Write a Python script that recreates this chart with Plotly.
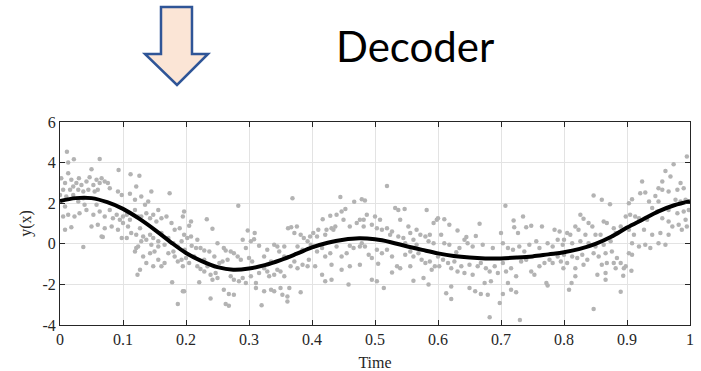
import plotly.graph_objects as go

# ---------------- data ----------------
curve_time = [0.0, 0.025, 0.05, 0.075, 0.1, 0.125, 0.15, 0.175, 0.2, 0.225, 0.25, 0.275,
              0.3, 0.325, 0.35, 0.375, 0.4, 0.425, 0.45, 0.475, 0.5, 0.525, 0.55, 0.575,
              0.6, 0.625, 0.65, 0.675, 0.7, 0.725, 0.75, 0.775, 0.8, 0.825, 0.85, 0.875,
              0.9, 0.925, 0.95, 0.975, 1.0]
curve_y = [2.1, 2.25, 2.25, 2.05, 1.72, 1.25, 0.7, 0.1, -0.45, -0.85, -1.15, -1.28,
           -1.22, -1.05, -0.8, -0.5, -0.18, 0.05, 0.2, 0.27, 0.22, 0.08, -0.12, -0.3,
           -0.47, -0.6, -0.68, -0.72, -0.72, -0.68, -0.62, -0.52, -0.42, -0.25, 0.0, 0.35,
           0.8, 1.2, 1.6, 1.9, 2.1]

noisy_time = [
    0.011, 0.013, 0.022, 0.063, 0.093, 0.050, 0.112, 0.126, 0.013, 0.002, 0.008, 0.018,
    0.026, 0.030, 0.034, 0.042, 0.047, 0.053, 0.058, 0.063, 0.066, 0.071, 0.076, 0.079,
    0.060, 0.055, 0.045, 0.037, 0.029, 0.021, 0.016, 0.005, 0.000, 0.010, 0.021, 0.037,
    0.029, 0.092, 0.098, 0.111, 0.121, 0.145, 0.174, 0.140, 0.135, 0.119, 0.129, 0.008,
    0.005, 0.013, 0.023, 0.031, 0.039, 0.042, 0.053, 0.058, 0.063, 0.071, 0.079, 0.084,
    0.090, 0.095, 0.100, 0.106, 0.111, 0.119, 0.124, 0.129, 0.137, 0.143, 0.148, 0.153,
    0.156, 0.161, 0.169, 0.177, 0.182, 0.190, 0.195, 0.008, 0.018, 0.050, 0.060, 0.071,
    0.082, 0.092, 0.098, 0.106, 0.113, 0.121, 0.127, 0.132, 0.137, 0.143, 0.148, 0.156,
    0.161, 0.166, 0.172, 0.180, 0.187, 0.193, 0.198, 0.037, 0.066, 0.068, 0.119, 0.121,
    0.124, 0.132, 0.137, 0.143, 0.150, 0.156, 0.148, 0.161, 0.166, 0.172, 0.180, 0.182,
    0.187, 0.193, 0.195, 0.123, 0.127, 0.178, 0.195, 0.187, 0.156, 0.145, 0.129, 0.108,
    0.100,
    0.197, 0.205, 0.208, 0.233, 0.242, 0.283, 0.369, 0.197, 0.202, 0.208, 0.218, 0.209,
    0.216, 0.223, 0.229, 0.237, 0.250, 0.260, 0.263, 0.271, 0.276, 0.282, 0.290, 0.295,
    0.298, 0.303, 0.309, 0.308, 0.316, 0.324, 0.329, 0.340, 0.345, 0.348, 0.356, 0.362,
    0.367, 0.376, 0.372, 0.382, 0.387, 0.393, 0.398, 0.385, 0.377, 0.200, 0.205, 0.213,
    0.218, 0.223, 0.229, 0.234, 0.239, 0.247, 0.250, 0.242, 0.258, 0.266, 0.271, 0.276,
    0.284, 0.290, 0.295, 0.303, 0.311, 0.311, 0.316, 0.324, 0.329, 0.332, 0.340, 0.345,
    0.350, 0.356, 0.366, 0.372, 0.377, 0.385, 0.393, 0.395, 0.260, 0.268, 0.263, 0.268,
    0.276, 0.239, 0.324, 0.335, 0.340, 0.350, 0.353, 0.361, 0.364, 0.361, 0.382, 0.320,
    0.221, 0.197, 0.229, 0.245, 0.253, 0.287, 0.300, 0.305, 0.335, 0.356,
    0.519, 0.445, 0.467, 0.479, 0.484, 0.453, 0.447, 0.439, 0.429, 0.417, 0.532, 0.537,
    0.547, 0.582, 0.540, 0.508, 0.500, 0.487, 0.482, 0.476, 0.471, 0.460, 0.450, 0.437,
    0.431, 0.423, 0.410, 0.402, 0.397, 0.408, 0.421, 0.434, 0.482, 0.495, 0.503, 0.511,
    0.519, 0.527, 0.524, 0.537, 0.545, 0.553, 0.556, 0.566, 0.572, 0.580, 0.587, 0.593,
    0.598, 0.585, 0.593, 0.561, 0.548, 0.566, 0.402, 0.408, 0.416, 0.421, 0.429, 0.439,
    0.447, 0.455, 0.466, 0.476, 0.484, 0.490, 0.495, 0.503, 0.511, 0.519, 0.527, 0.535,
    0.540, 0.548, 0.556, 0.561, 0.569, 0.574, 0.580, 0.587, 0.595, 0.405, 0.416, 0.431,
    0.447, 0.460, 0.476, 0.505, 0.527, 0.556, 0.590, 0.421, 0.431, 0.458, 0.495, 0.503,
    0.514, 0.561, 0.577, 0.585, 0.479, 0.460,
    0.707, 0.735, 0.720, 0.600, 0.610, 0.618, 0.631, 0.666, 0.721, 0.740, 0.748, 0.765,
    0.700, 0.727, 0.605, 0.645, 0.660, 0.785, 0.793, 0.610, 0.618, 0.634, 0.642, 0.647,
    0.655, 0.671, 0.687, 0.703, 0.711, 0.719, 0.729, 0.737, 0.745, 0.756, 0.761, 0.774,
    0.782, 0.790, 0.798, 0.629, 0.600, 0.608, 0.602, 0.616, 0.621, 0.626, 0.631, 0.637,
    0.642, 0.650, 0.655, 0.663, 0.668, 0.676, 0.682, 0.690, 0.695, 0.703, 0.708, 0.716,
    0.724, 0.732, 0.740, 0.748, 0.753, 0.761, 0.769, 0.777, 0.782, 0.790, 0.795, 0.613,
    0.621, 0.621, 0.650, 0.659, 0.668, 0.679, 0.684, 0.698, 0.703, 0.711, 0.716, 0.724,
    0.772, 0.774, 0.682, 0.730, 0.674,
    0.995, 0.974, 0.961, 0.969, 0.924, 0.956, 0.985, 0.950, 0.956, 0.966, 0.980, 0.990,
    0.921, 0.929, 0.945, 0.847, 0.860, 0.873, 0.908, 0.903, 0.935, 0.950, 0.977, 0.985,
    0.993, 0.940, 0.948, 0.966, 0.980, 0.990, 0.998, 0.826, 0.831, 0.898, 0.905, 0.913,
    0.919, 0.932, 0.956, 0.966, 0.972, 0.982, 0.993, 0.995, 0.987, 0.863, 0.868, 0.839,
    0.845, 0.818, 0.805, 0.810, 0.823, 0.834, 0.850, 0.858, 0.879, 0.890, 0.882, 0.903,
    0.911, 0.927, 0.940, 0.953, 0.966, 0.950, 0.961, 0.929, 0.919, 0.937, 0.908, 0.874,
    0.800, 0.813, 0.826, 0.839, 0.850, 0.863, 0.800, 0.813, 0.821, 0.829, 0.837, 0.847,
    0.855, 0.866, 0.876, 0.884, 0.903, 0.908, 0.805, 0.818, 0.831, 0.860, 0.868, 0.879,
    0.890, 0.898, 0.895, 0.818, 0.853, 0.866, 0.866, 0.882, 0.894, 0.907, 0.808, 0.812,
    0.890, 0.847, 0.799,
]
noisy_y = [
    4.54, 4.00, 4.17, 4.18, 3.64, 3.67, 3.43, 3.35, 3.48, 3.23, 2.99, 3.15,
    2.99, 3.23, 2.90, 3.07, 3.28, 2.90, 3.15, 2.99, 3.23, 3.07, 2.99, 2.74,
    2.66, 2.58, 2.66, 2.58, 2.66, 2.82, 2.66, 2.66, 2.41, 2.33, 2.41, 2.25,
    2.08, 2.58, 2.41, 2.46, 2.82, 2.58, 2.49, 2.08, 1.92, 2.17, 2.33, 1.84,
    1.35, 1.43, 1.35, 1.51, 1.92, 1.67, 1.43, 1.92, 1.59, 1.35, 1.67, 1.26,
    1.43, 1.18, 1.35, 1.43, 1.18, 1.67, 1.35, 1.35, 1.51, 1.26, 1.43, 1.10,
    1.67, 1.26, 1.35, 1.02, 0.69, 0.77, 1.35, 0.69, 0.82, 0.85, 0.94, 0.77,
    0.85, 0.69, 0.28, 0.28, 0.53, 0.44, 0.77, 0.36, 0.20, 0.44, 0.28, 0.12,
    0.53, -0.05, 0.28, 0.03, -0.13, 0.12, -0.29, -0.16, 0.36, 0.33, -0.38, -0.21,
    -0.13, -0.62, -0.95, -0.46, -0.38, -0.79, -1.11, -1.11, -0.95, -0.46, -0.38, -0.62,
    -0.87, -0.79, -1.11, -1.52, -1.28, -1.90, -2.34, -2.97, -0.13, -0.05, 0.12, 0.85,
    1.02,
    1.59, 0.89, 1.10, 1.21, 0.74, 1.87, 2.25, 0.44, 0.28, 0.36, 0.20, -0.10,
    -0.21, -0.21, -0.33, -0.38, 0.03, -0.21, -0.33, -0.38, -0.46, -0.62, 0.20, -0.21,
    0.66, 0.12, 0.53, 0.23, -0.10, -0.62, -0.29, -0.05, -0.13, -0.38, -0.13, 0.77,
    0.82, 0.85, 0.53, 0.44, 0.28, 0.12, -0.05, -0.29, -0.13, -0.70, -0.95, -0.62,
    -1.11, -1.24, -1.36, -1.11, -1.52, -1.44, -1.69, -1.77, -0.87, -0.79, -1.60, -1.77,
    -1.85, -1.69, -1.93, -1.60, -1.93, -2.18, -1.44, -1.20, -1.36, -1.60, -1.52, -1.28,
    -1.36, -1.60, -1.11, -0.87, -1.20, -1.03, -1.11, -0.79, -2.26, -2.47, -2.97, -3.05,
    -2.51, -2.70, -2.34, -2.26, -2.34, -2.18, -2.51, -2.59, -2.18, -2.84, -2.39, -3.03,
    -1.90, -2.34, -0.79, -0.62, -0.95, -0.79, -0.70, -0.87, -0.87, -0.62,
    2.85, 2.30, 2.07, 2.20, 2.13, 1.71, 1.59, 1.43, 1.38, 1.21, 1.76, 1.67,
    1.71, 1.67, 1.18, 1.18, 1.35, 1.43, 1.18, 1.18, 1.02, 0.85, 1.18, 0.85,
    0.77, 0.69, 0.69, 0.53, 0.36, 0.36, 0.44, 0.69, 0.85, 0.94, 0.77, 0.69,
    0.77, 0.61, 0.44, 0.36, 0.28, 0.85, 0.53, 0.69, 0.44, 0.36, 0.44, 1.02,
    1.18, 0.12, 0.03, 0.20, 0.03, -0.05, -0.13, -0.38, -0.21, -0.62, -0.46, -0.13,
    -0.62, -0.46, -0.21, -0.13, -0.13, -0.54, -0.70, -0.29, -0.46, -0.29, -0.62, -1.11,
    -1.20, -0.54, -0.38, -0.62, -0.46, -0.79, -0.95, -0.87, -1.11, -1.11, -1.52, -1.03,
    -1.28, -1.11, -1.03, -0.98, -1.41, -1.11, -1.28, -1.85, -1.77, -2.01, -1.77, -1.85,
    -2.18, -1.82, -1.69, -2.01, 0.03, -0.10,
    1.87, 1.35, 1.15, 1.26, 1.21, 0.94, 0.66, 0.99, 0.82, 0.82, 0.89, 0.85,
    0.53, 0.53, 0.44, 0.33, 0.39, 0.69, 0.61, 0.03, -0.05, -0.21, 0.20, 0.03,
    -0.13, -0.05, -0.21, 0.03, -0.21, -0.29, -0.13, -0.38, -0.05, 0.12, -0.21, 0.03,
    -0.13, 0.20, -0.05, -0.42, -0.62, -0.79, -1.11, -0.95, -1.20, -0.87, -1.36, -1.11,
    -1.44, -1.03, -1.52, -1.11, -0.95, -1.20, -1.36, -1.11, -1.44, -0.95, -1.36, -1.20,
    -1.60, -0.87, -0.79, -1.36, -1.52, -1.11, -0.95, -0.79, -0.95, -0.62, -0.87, -2.43,
    -2.72, -2.10, -2.18, -2.34, -2.47, -2.51, -1.85, -2.92, -2.47, -1.93, -2.26, -2.39,
    -1.93, -2.05, -3.62, -3.75, -1.93,
    4.30, 3.92, 3.59, 3.31, 3.07, 3.07, 2.99, 2.74, 2.66, 2.58, 2.66, 2.74,
    2.49, 2.53, 2.36, 2.38, 2.17, 1.95, 2.20, 2.00, 2.08, 2.08, 2.17, 2.08,
    2.17, 1.76, 1.59, 1.67, 1.51, 1.59, 1.67, 1.43, 1.23, 1.35, 1.43, 1.35,
    1.26, 1.18, 1.26, 1.10, 0.85, 0.94, 1.18, 0.85, 0.69, 1.10, 1.02, 1.02,
    0.85, 0.85, 0.53, 0.44, 0.69, 0.44, 0.44, 0.44, 0.77, 0.85, 0.53, 0.69,
    0.44, 0.69, 0.44, 0.53, 0.44, 0.03, -0.05, -0.05, -0.13, -0.21, 0.03, 0.12,
    0.20, 0.03, 0.12, 0.03, -0.13, -0.05, -0.54, -0.62, -0.70, -0.54, -0.79, -0.46,
    -0.62, -0.46, -0.38, -0.70, -0.46, -0.54, -0.95, -1.20, -1.03, -1.03, -0.95, -0.95,
    -0.95, -1.11, -1.20, -1.60, -1.52, -1.77, -1.44, -1.20, -1.57, -1.33, -2.26, -1.93,
    -2.36, -3.21, -1.20,
]

x_tick_vals = [0, 0.1, 0.2, 0.3, 0.4, 0.5, 0.6, 0.7, 0.8, 0.9, 1]
x_tick_text = ["0", "0.1", "0.2", "0.3", "0.4", "0.5", "0.6", "0.7", "0.8", "0.9", "1"]
y_tick_vals = [-4, -2, 0, 2, 4, 6]
y_tick_text = ["-4", "-2", "0", "2", "4", "6"]

# ---------------- figure ----------------
W, H = 701, 371
ml, mr, mt, mb = 60, 11, 122, 46

fig = go.Figure()
fig.add_trace(go.Scatter(
    x=noisy_time, y=noisy_y, mode="markers",
    marker=dict(color="#b3b3b3", size=4.5, line=dict(width=0)),
    hoverinfo="skip", showlegend=False))
fig.add_trace(go.Scatter(
    x=curve_time, y=curve_y, mode="lines", line_shape="spline",
    line=dict(color="black", width=4), showlegend=False))

serif = "Liberation Serif"
axis_common = dict(
    showline=True, linecolor="#262626", linewidth=1, mirror="ticks",
    ticks="inside", ticklen=5, tickcolor="#262626", automargin=False,
    showgrid=True, gridcolor="#e3e3e3", gridwidth=1, zeroline=False,
    tickfont=dict(family=serif, size=16, color="#262626"),
)
fig.update_xaxes(range=[0, 1], tickvals=x_tick_vals, ticktext=x_tick_text,
                 title=dict(text="Time", standoff=9,
                            font=dict(family=serif, size=16, color="#262626")),
                 **axis_common)
fig.update_yaxes(range=[-4, 6], tickvals=y_tick_vals, ticktext=y_tick_text,
                 title=dict(text="y(x)", standoff=6,
                            font=dict(family=serif, size=16, color="#262626")),
                 **axis_common)


def px(xp):
    return (xp - ml) / (W - ml - mr)


def py(yp):
    return (H - mb - yp) / (H - mt - mb)


# decorative down arrow (slide graphic)
pts = [(161, 7), (192, 7), (192, 54), (208, 54), (177, 85), (145, 54), (161, 54)]
path = "M " + " L ".join(f"{px(a):.4f},{py(b):.4f}" for a, b in pts) + " Z"
fig.add_shape(type="path", path=path, xref="paper", yref="paper",
              fillcolor="#fbe5d6", line=dict(color="#2f5597", width=2.5))

fig.add_annotation(text="Decoder", xref="paper", yref="paper",
                   x=px(415), y=py(46), xanchor="center", yanchor="middle",
                   showarrow=False,
                   font=dict(family="Lato", size=42, color="black"))

fig.update_layout(
    width=W, height=H, margin=dict(l=ml, r=mr, t=mt, b=mb),
    paper_bgcolor="white", plot_bgcolor="white",
)

fig.write_html("out.html")
